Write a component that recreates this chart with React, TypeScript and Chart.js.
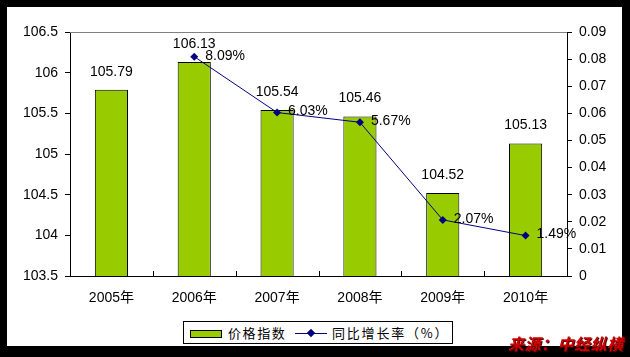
import React, { useEffect, useRef } from "react";
import { Chart, registerables } from "chart.js";

Chart.register(...registerables);

const categories = ["2005年", "2006年", "2007年", "2008年", "2009年", "2010年"];
const priceIndex = [105.79, 106.13, 105.54, 105.46, 104.52, 105.13];
const growthRate = [null, 0.0809, 0.0603, 0.0567, 0.0207, 0.0149];
const leftTickLabels = ["103.5", "104", "104.5", "105", "105.5", "106", "106.5"];
const rightTickLabels = ["0", "0.01", "0.02", "0.03", "0.04", "0.05", "0.06", "0.07", "0.08", "0.09"];
const seriesNames = ["价格指数", "同比增长率（%）"];
const sourceText = "来源：中经纵横";

const FONT = "'Liberation Sans', Arial, 'Noto Sans CJK SC', sans-serif";

const decorPlugin = {
  id: "decor",
  beforeDatasetsDraw(chart: any) {
    const { ctx, chartArea } = chart;
    ctx.save();
    ctx.strokeStyle = "#808080";
    ctx.lineWidth = 1;
    ctx.beginPath();
    ctx.moveTo(chartArea.left, Math.round(chartArea.top) + 0.5);
    ctx.lineTo(chartArea.right, Math.round(chartArea.top) + 0.5);
    ctx.stroke();
    ctx.strokeStyle = "#000";
    const n = categories.length;
    const w = (chartArea.right - chartArea.left) / n;
    for (let i = 1; i < n; i++) {
      const x = Math.round(chartArea.left + i * w) + 0.5;
      ctx.beginPath();
      ctx.moveTo(x, chartArea.bottom);
      ctx.lineTo(x, chartArea.bottom - 5);
      ctx.stroke();
    }
    ctx.restore();
  },
  afterDatasetsDraw(chart: any) {
    const { ctx } = chart;
    ctx.save();
    ctx.font = "14px " + FONT;
    ctx.fillStyle = "#000";
    const barMeta = chart.getDatasetMeta(1);
    barMeta.data.forEach((bar: any, i: number) => {
      ctx.textAlign = "center";
      ctx.textBaseline = "middle";
      ctx.fillText(priceIndex[i].toFixed(2), bar.x, bar.y - 18);
    });
    const lineMeta = chart.getDatasetMeta(0);
    lineMeta.data.forEach((pt: any, i: number) => {
      const v = growthRate[i];
      if (v == null) return;
      ctx.textAlign = "left";
      ctx.textBaseline = "middle";
      ctx.fillText((v * 100).toFixed(2) + "%", pt.x + 11, pt.y - 1);
    });
    ctx.restore();
  },
};

export default function App() {
  const ref = useRef<HTMLCanvasElement | null>(null);
  useEffect(() => {
    if (!ref.current) return;
    const chart = new Chart(ref.current, {
      type: "bar",
      data: {
        labels: categories,
        datasets: [
          {
            type: "line",
            label: seriesNames[1],
            data: growthRate,
            yAxisID: "y1",
            borderColor: "#000080",
            backgroundColor: "#000080",
            borderWidth: 1,
            pointStyle: "rectRot",
            pointRadius: 4,
            pointBorderWidth: 0,
            order: 0,
          } as any,
          {
            type: "bar",
            label: seriesNames[0],
            data: priceIndex,
            yAxisID: "y",
            backgroundColor: "#99CC00",
            borderColor: "#000",
            borderWidth: 1,
            barPercentage: 0.4,
            categoryPercentage: 1,
            order: 1,
          },
        ],
      },
      options: {
        animation: false,
        responsive: false,
        devicePixelRatio: 1,
        layout: { padding: { top: 32, left: 0, right: 0, bottom: 0 } },
        plugins: { legend: { display: false }, tooltip: { enabled: false } },
        scales: {
          x: {
            type: "category",
            offset: true,
            grid: { display: false, drawTicks: false },
            border: { display: true, color: "#000", width: 1 },
            ticks: { color: "#000", font: { size: 14, family: FONT }, padding: 14, maxRotation: 0 },
            afterFit: (s: any) => { s.height = 81; },
          },
          y: {
            position: "left",
            min: 103.5,
            max: 106.5,
            grid: { drawOnChartArea: false, tickLength: 5, color: "#000" },
            border: { display: true, color: "#000", width: 1 },
            ticks: {
              stepSize: 0.5,
              color: "#000",
              font: { size: 14, family: FONT },
              padding: 7,
              callback: (_v: any, i: number) => leftTickLabels[i],
            },
            afterFit: (s: any) => { s.width = 70; },
          },
          y1: {
            position: "right",
            min: 0,
            max: 0.09,
            grid: { drawOnChartArea: false, tickLength: 5, color: "#000" },
            border: { display: true, color: "#000", width: 1 },
            ticks: {
              stepSize: 0.01,
              color: "#000",
              font: { size: 14, family: FONT },
              padding: 7,
              callback: (_v: any, i: number) => rightTickLabels[i],
            },
            afterFit: (s: any) => { s.width = 63; },
          },
        },
      } as any,
      plugins: [decorPlugin],
    });
    return () => chart.destroy();
  }, []);

  const legendFont = "'Noto Sans CJK SC', sans-serif";
  return (
    <div style={{ position: "fixed", left: 0, top: 0, width: 630, height: 357, background: "#000", overflow: "hidden" }}>
      <div style={{ position: "absolute", left: 7, top: 7, width: 615, height: 339, background: "#fff" }} />
      <canvas ref={ref} width={630} height={357} style={{ position: "absolute", left: 0, top: 0, width: 630, height: 357 }} />
      <div style={{ position: "absolute", left: 183, top: 321, width: 270, height: 23, border: "1px solid #000", boxSizing: "border-box", background: "#fff" }}>
        <div style={{ position: "absolute", left: 6, top: 8, width: 32, height: 8, background: "#99CC00", border: "1px solid #000", boxSizing: "border-box" }} />
        <div style={{ position: "absolute", left: 44, top: 2, fontFamily: legendFont, fontSize: 13, lineHeight: "17px", letterSpacing: 1.6, color: "#000", whiteSpace: "nowrap" }}>{seriesNames[0]}</div>
        <div style={{ position: "absolute", left: 111, top: 11, width: 32, height: 1, background: "#000080" }} />
        <div style={{ position: "absolute", left: 124, top: 8, width: 6, height: 6, background: "#000080", transform: "rotate(45deg)" }} />
        <div style={{ position: "absolute", left: 148, top: 2, fontFamily: legendFont, fontSize: 13, lineHeight: "17px", letterSpacing: 1.8, color: "#000", whiteSpace: "nowrap" }}>{seriesNames[1]}</div>
      </div>
      <div style={{ position: "absolute", left: 508, top: 334, fontFamily: legendFont, fontSize: 16, lineHeight: "18px", fontWeight: 700, fontStyle: "italic", color: "#CC0000", letterSpacing: 0.5, textShadow: "1px 1px 0 #550000", whiteSpace: "nowrap" }}>{sourceText}</div>
    </div>
  );
}
